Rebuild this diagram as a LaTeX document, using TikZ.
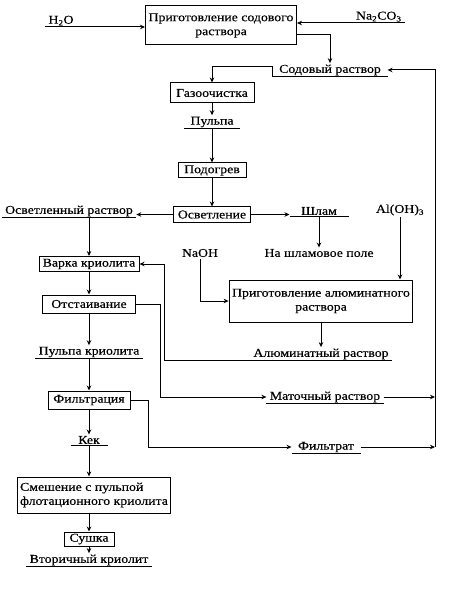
\documentclass[tikz,border=0pt]{standalone}
\usepackage{fontspec}
\setmainfont{Liberation Serif}[FakeStretch=1.15, FakeBold=0.4]
\usetikzlibrary{arrows.meta}

\begin{document}
\begin{tikzpicture}[x=1pt, y=-1pt, line width=1pt,
          font=\fontsize{12}{14}\selectfont, >={Stealth[length=5pt,width=4.5pt]},
          box/.style={draw, inner xsep=3pt, inner ysep=1.5pt, minimum height=15pt},
          lab/.style={inner xsep=3pt, inner ysep=1pt}]
        \useasboundingbox (0,0) rectangle (448,612);
        \node[box, minimum width=151pt, minimum height=39pt, align=center] (soda) at (221,25.5) {Приготовление содового\\раствора};
        \node[lab, anchor=south west] (h2o) at (45,27) {H\textsubscript{2}O};
        \node[lab, anchor=south east] (na) at (405,23) {Na\textsubscript{2}CO\textsubscript{3}};
        \node[lab, minimum width=114pt] (sodasol) at (330,70) {Содовый раствор};
        \node[box, minimum width=84pt, minimum height=20pt] (gas) at (212,93) {Газоочистка};
        \node[lab, minimum width=55pt] (pulp) at (212,122) {Пульпа};
        \node[box, minimum width=68pt] (heat) at (212,170.5) {Подогрев};
        \node[box, minimum width=77pt] (clar) at (212,214.5) {Осветление};
        \node[lab, minimum width=128pt] (clarsol) at (69,211) {Осветленный раствор};
        \node[lab, minimum width=58pt] (slime) at (319,211) {Шлам};
        \node[lab] (aloh) at (400,210) {Al(OH)\textsubscript{3}};
        \node[lab] (naoh) at (200,253) {NaOH};
        \node[lab] (field) at (319,253) {На шламовое поле};
        \node[box, minimum width=100pt] (cook) at (89,264) {Варка криолита};
        \node[box, minimum width=178pt, minimum height=42pt, align=center] (alum) at (321,301) {Приготовление алюминатного\\раствора};
        \node[box, minimum width=93pt, minimum height=18pt] (settle) at (89,304) {Отстаивание};
        \node[lab, minimum width=103pt] (pulpcry) at (89,352) {Пульпа криолита};
        \node[lab, minimum width=140pt] (alumsol) at (321,354) {Алюминатный раствор};
        \node[lab, minimum width=114pt] (mother) at (325,397) {Маточный раствор};
        \node[box, minimum width=82pt, minimum height=18pt] (filt) at (89,400) {Фильтрация};
        \node[lab, minimum width=36pt] (kek) at (89,440) {Кек};
        \node[lab, minimum width=68pt] (filtrate) at (326,447) {Фильтрат};
        \node[box, minimum width=150pt, minimum height=36pt, align=left] (mix) at (94,495) {Смешение с пульпой\\флотационного криолита};
        \node[box, minimum width=50pt, minimum height=14pt] (dry) at (89,539) {Сушка};
        \node[lab, minimum width=118pt] (second) at (89,560) {Вторичный криолит};
        \coordinate (rt) at (435,70);
        \coordinate (rb) at (435,447);
        \foreach \n in {sodasol,pulp,clarsol,slime,pulpcry,alumsol,mother,kek,filtrate,second}
          \draw (\n.south west) -- (\n.south east);
        \draw[->] (h2o.south west) -- (h2o.south west -| soda.west);
        \draw[->] (na.south east) -- (na.south east -| soda.east);
        \draw[->] ([yshift=11pt]soda.south east) -| (sodasol.north);
        \draw[->] (sodasol.south west) -- ++(0,-10) -| (gas.north);
        \draw[->] (rb) -- (rt) -- (sodasol.east);
        \draw[->] (gas) -- (pulp);
        \draw[->] (pulp.south) -- (heat.north);
        \draw[->] (heat) -- (clar);
        \draw[->] (clar.west) -- (clar.west -| clarsol.east);
        \draw[->] (clar.east) -- (clar.east -| slime.west);
        \draw[->] (slime.south) -- (field.north);
        \draw[->] (aloh.south) -- (aloh.south |- alum.north);
        \draw[->] (naoh.south) |- (alum.west);
        \draw[->] (alum) -- (alumsol);
        \draw[->] (alumsol.south west) -| ([xshift=25pt]cook.east) -- (cook.east);
        \draw[->] (cook.north |- clarsol.south) -- (cook.north);
        \draw[->] (cook) -- (settle);
        \draw[->] (settle.east) -- ++(24,0) |- (mother.west);
        \draw[->] (settle) -- (pulpcry);
        \draw[->] (pulpcry.south) -- (filt.north);
        \draw[->] (filt.east) -- ++(18,0) |- (filtrate.west);
        \draw[->] (filt) -- (kek);
        \draw[->] (kek.south) -- (kek.south |- mix.north);
        \draw[->] (mix.south -| dry.north) -- (dry.north);
        \draw[->] (dry) -- (second);
        \draw[->] (mother.east) -- (mother.east -| rt);
        \draw[->] (filtrate.east) -- (filtrate.east -| rb);
      \end{tikzpicture}
\end{document}
